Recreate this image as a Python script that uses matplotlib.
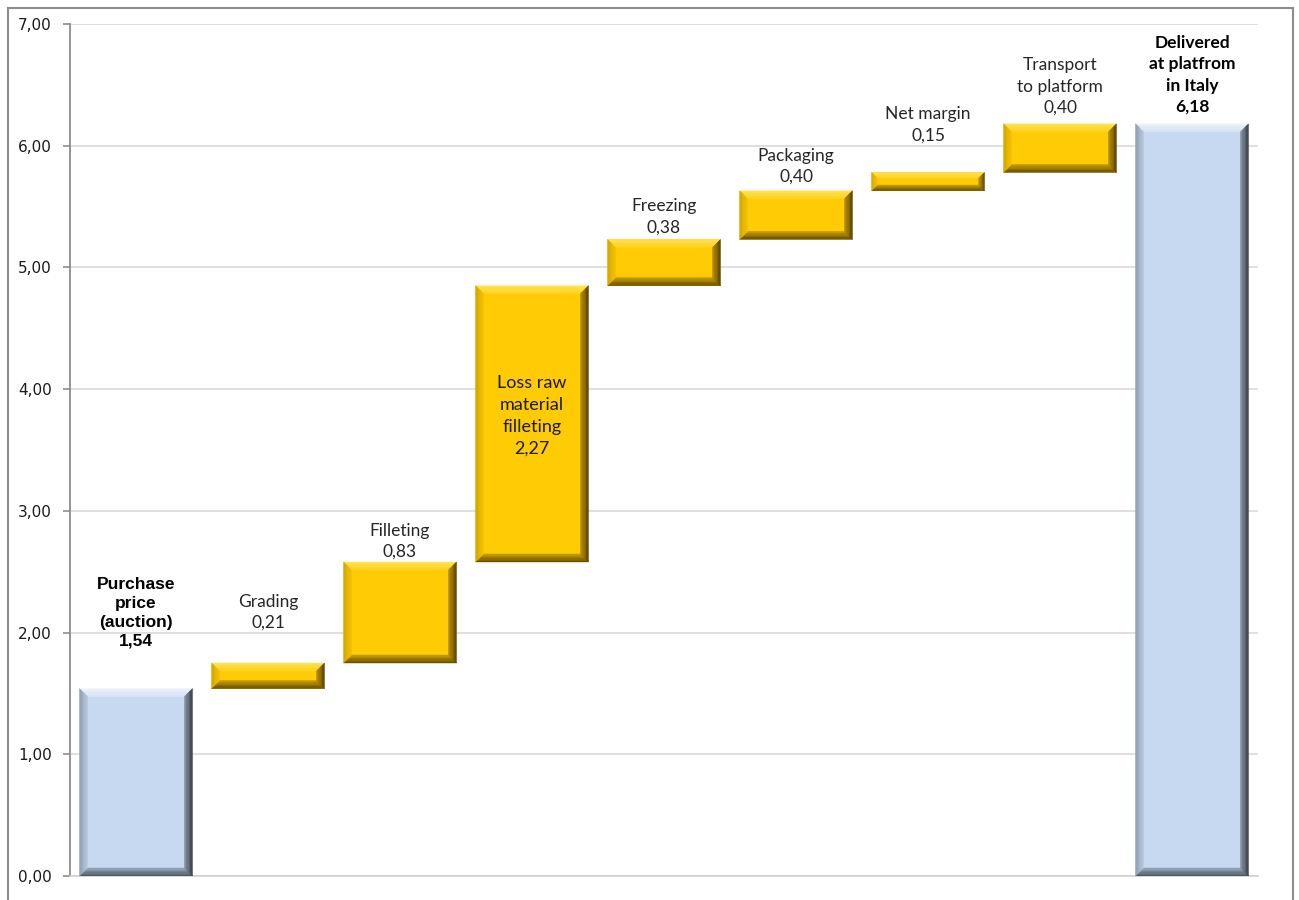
import numpy as np
import matplotlib
matplotlib.use("Agg")
import matplotlib.pyplot as plt
from matplotlib.patches import Polygon
from matplotlib.lines import Line2D

# ---------------- data ----------------
steps = ["Purchase\nprice\n(auction)", "Grading", "Filleting",
         "Loss raw\nmaterial\nfilleting", "Freezing", "Packaging",
         "Net margin", "Transport\nto platform", "Delivered\nat platfrom\nin Italy"]
values = [1.54, 0.21, 0.83, 2.27, 0.38, 0.40, 0.15, 0.40, 6.18]
is_total = [True, False, False, False, False, False, False, False, True]
y_ticks = [0, 1, 2, 3, 4, 5, 6, 7]

# label layout (pixels above bar top, baseline); None => inside bar
label_gap_px = [43, 35, 5, None, 7, 9, 32, 11, 12]

# ---------------- waterfall geometry from data ----------------
bottoms, heights = [], []
running = 0.0
for v, tot in zip(values, is_total):
    if tot:
        bottoms.append(0.0)
        heights.append(v)
        running = v
    else:
        bottoms.append(running)
        heights.append(v)
        running += v

fmt = lambda v: f"{v:.2f}".replace(".", ",")

W, H, DPI = 12.99, 9.00, 100
fig = plt.figure(figsize=(W, H), dpi=DPI)
fig.patch.set_facecolor("white")
ax = fig.add_axes([70 / 1299, 24 / 900, (1258 - 70) / 1299, (876 - 24) / 900])

x = np.arange(len(values))
bar_w = 0.856
ax.set_xlim(-0.5, len(values) - 0.5)
ax.set_ylim(0, 7)

# grid
ax.set_yticks(y_ticks)
ax.set_yticklabels([fmt(t) for t in y_ticks], fontsize=11, color="#1A1A1A",
                   family="DejaVu Sans")
ax.yaxis.grid(True, color="#D9D9D9", linewidth=1.2, zorder=0)
ax.set_axisbelow(True)
ax.set_xticks([])
for s in ["top", "right"]:
    ax.spines[s].set_visible(False)
ax.spines["left"].set_color("#8C8C8C")
ax.spines["left"].set_linewidth(1.3)
ax.spines["bottom"].set_color("#D0D0D0")
ax.spines["bottom"].set_linewidth(1.2)
ax.tick_params(axis="y", length=5, color="#8C8C8C", width=1.2, pad=8)

YEL = dict(fill="#FFCB05",
           top=("#FFE45A", "#FFD21E"),
           left=("#D2A300", "#F5C300"),
           right=("#4E3C00", "#B88E00"),
           bottom=("#5E4800", "#C89C00"))
BLU = dict(fill="#C6D9F0",
           top=("#EEF4FB", "#D6E4F4"),
           left=("#8C9AAA", "#B8C9DD"),
           right=("#2F363E", "#8794A4"),
           bottom=("#46505C", "#95A5B8"))


def hex2rgb(h):
    h = h.lstrip("#")
    return np.array([int(h[i:i + 2], 16) / 255 for i in (0, 2, 4)])


def facet(p0, p1, q0, q1, c_out, c_in, n=6):
    co, ci = hex2rgb(c_out), hex2rgb(c_in)
    inv = ax.transData.inverted()
    for k in range(n):
        t0, t1 = k / n, (k + 1) / n
        a0 = p0 + (q0 - p0) * t0
        a1 = p1 + (q1 - p1) * t0
        b0 = p0 + (q0 - p0) * t1
        b1 = p1 + (q1 - p1) * t1
        pts = inv.transform(np.array([a0, a1, b1, b0]))
        col = co + (ci - co) * ((t0 + t1) / 2)
        ax.add_patch(Polygon(pts, closed=True, facecolor=col, edgecolor=col,
                             linewidth=0.3, zorder=3))


bars = ax.bar(x, heights, bottom=bottoms, width=bar_w, zorder=2,
              color=[BLU["fill"] if t else YEL["fill"] for t in is_total],
              linewidth=0)

for rect, tot in zip(bars, is_total):
    pal = BLU if tot else YEL
    bx, by = rect.get_x(), rect.get_y()
    bw, bh = rect.get_width(), rect.get_height()
    (x0, y0) = ax.transData.transform((bx, by))
    (x1, y1) = ax.transData.transform((bx + bw, by + bh))
    b = min(8.0, (y1 - y0) / 3.2)
    P = lambda a, c: np.array([a, c], dtype=float)
    facet(P(x0, y1), P(x1, y1), P(x0 + b, y1 - b), P(x1 - b, y1 - b), *pal["top"])
    facet(P(x0, y0), P(x1, y0), P(x0 + b, y0 + b), P(x1 - b, y0 + b), *pal["bottom"])
    facet(P(x0, y0), P(x0, y1), P(x0 + b, y0 + b), P(x0 + b, y1 - b), *pal["left"])
    facet(P(x1, y0), P(x1, y1), P(x1 - b, y0 + b), P(x1 - b, y1 - b), *pal["right"])

# labels
for i, (name, v, tot, gap) in enumerate(zip(steps, values, is_total, label_gap_px)):
    txt = f"{name}\n{fmt(v)}"
    top = bottoms[i] + heights[i]
    if gap is None:
        mid = bottoms[i] + heights[i] / 2
        ax.annotate(txt, (x[i], mid), xytext=(0, 8), textcoords="offset pixels",
                    ha="center", va="center", fontsize=13, family="Lato",
                    color="#1A1A1A", linespacing=1.45, zorder=5)
    elif tot and i == 0:
        ax.annotate(txt, (x[i], top), xytext=(0, gap), textcoords="offset pixels",
                    ha="center", va="baseline", fontsize=12.5,
                    family="Liberation Sans", fontweight="bold",
                    color="#000000", linespacing=1.33, zorder=5)
    elif tot:
        ax.annotate(txt, (x[i], top), xytext=(0, gap), textcoords="offset pixels",
                    ha="center", va="baseline", fontsize=12.5, family="Lato",
                    fontweight="bold", color="#000000", linespacing=1.4, zorder=5)
    else:
        ax.annotate(txt, (x[i], top), xytext=(0, gap), textcoords="offset pixels",
                    ha="center", va="baseline", fontsize=12.5, family="Lato",
                    color="#262626", linespacing=1.4, zorder=5)

# outer chart-area frame (left, top, right edges)
fx0, fx1, fy1 = 8 / 1299, 1293 / 1299, 1 - 8 / 900
for xs, ys in [([fx0, fx0], [0, fy1]), ([fx0, fx1], [fy1, fy1]), ([fx1, fx1], [fy1, 0])]:
    fig.add_artist(Line2D(xs, ys, transform=fig.transFigure, color="#8C8C8C",
                          linewidth=1.5))

fig.savefig("out.png", dpi=DPI)
